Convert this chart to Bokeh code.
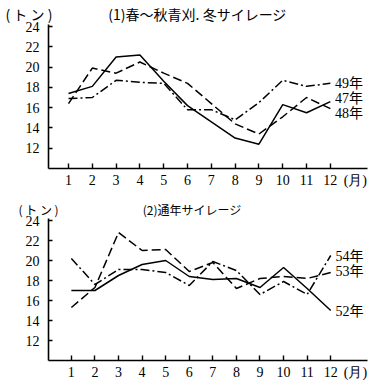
from bokeh.plotting import figure
from bokeh.layouts import column
from bokeh.models import Label, FixedTicker, Range1d, Title
from bokeh.embed import file_html
from bokeh.resources import INLINE

months = list(range(1, 13))
month_ticks = list(range(1, 13))
month_unit_pos = 13.05
ton_ticks = [12, 14, 16, 18, 20, 22, 24]

# (1) 春～秋青刈, 冬サイレージ
y47 = [17.4, 18.1, 21.0, 21.2, 18.6, 16.2, 14.6, 13.0, 12.4, 16.3, 15.5, 16.6]
y48 = [16.4, 19.9, 19.4, 20.5, 19.4, 18.4, 16.4, 14.4, 13.4, 15.1, 17.0, 15.9]
y49 = [16.9, 17.0, 18.7, 18.5, 18.4, 15.8, 15.8, 14.8, 16.5, 18.7, 18.1, 18.4]

# (2) 通年サイレージ
y52 = [17.0, 17.0, 18.5, 19.6, 20.0, 18.4, 18.1, 18.2, 17.3, 19.3, 17.2, 15.0]
y53 = [15.3, 17.3, 22.8, 21.0, 21.1, 18.9, 19.8, 17.2, 18.2, 18.4, 18.2, 18.8]
y54 = [20.2, 17.6, 19.1, 19.1, 18.8, 17.5, 19.9, 19.0, 16.6, 17.9, 16.6, 20.5]

SERIF = "Liberation Serif"
CJK = "Noto Sans CJK JP"
MIX = "Liberation Serif, 'Noto Sans CJK JP'"
DASH = "9 4"
DASHDOT = "9 3 2 3"
IS = "\u3000"


def make_panel(height, border_top, border_left, x_start, title, title_offset,
               title_size, series, labels):
    p = figure(width=373, height=height, output_backend="svg", toolbar_location=None,
               x_range=Range1d(x_start, 13.56), y_range=Range1d(10.0, 24.2),
               min_border_top=border_top, min_border_left=border_left,
               min_border_right=6, min_border_bottom=20)
    p.outline_line_color = None
    p.grid.visible = False
    for ax in (p.xaxis[0], p.yaxis[0]):
        ax.axis_line_color = "black"
        ax.axis_line_width = 1.6
        ax.major_tick_line_color = "black"
        ax.major_tick_line_width = 1.4
        ax.minor_tick_line_color = "black"
        ax.minor_tick_line_width = 1.4
        ax.major_label_text_font = SERIF
        ax.major_label_text_font_size = "14px"
        ax.major_label_text_color = "black"
    # y axis: inward major ticks
    p.yaxis.ticker = FixedTicker(ticks=ton_ticks, minor_ticks=[])
    p.yaxis.major_tick_in = 4
    p.yaxis.major_tick_out = 0
    p.yaxis.major_label_standoff = 9
    # x axis: labelled positions (months + unit), tick marks only at months
    p.xaxis.ticker = FixedTicker(ticks=month_ticks + [month_unit_pos],
                                 minor_ticks=month_ticks)
    p.xaxis.major_label_overrides = {month_unit_pos: "(月)"}
    p.xaxis.major_tick_in = 0
    p.xaxis.major_tick_out = 0
    p.xaxis.minor_tick_in = 5
    p.xaxis.minor_tick_out = 0
    p.xaxis.major_label_standoff = 4

    for ys, dash in series:
        p.line(months, ys, line_color="black", line_width=1.5, line_dash=dash)

    for text, ly in labels:
        p.add_layout(Label(x=12.2, y=ly, text=text, text_font=MIX, text_font_size="14px",
                           text_color="black", text_baseline="middle"))

    p.add_layout(Title(text=title, align="left", offset=title_offset, standoff=2,
                       text_font=CJK, text_font_size=title_size, text_font_style="normal",
                       text_color="black"), "above")
    return p


top = make_panel(190, 24, 48, 0.16,
                 "( ト ン )" + IS * 4 + "(1)春～秋青刈. 冬サイレージ", -43, "14px",
                 [(y47, "solid"), (y48, DASH), (y49, DASHDOT)],
                 [("49年", 18.4), ("47年", 16.9), ("48年", 15.45)])
bottom = make_panel(192, 28, 45, 0.03,
                    "( ト ン )" + IS * 7 + "(2)通年サイレージ", -30, "12px",
                    [(y52, "solid"), (y53, DASH), (y54, DASHDOT)],
                    [("54年", 20.4), ("53年", 18.9), ("52年", 14.9)])

layout = column(top, bottom, spacing=0)
open("out.html", "w").write(file_html(layout, INLINE))
